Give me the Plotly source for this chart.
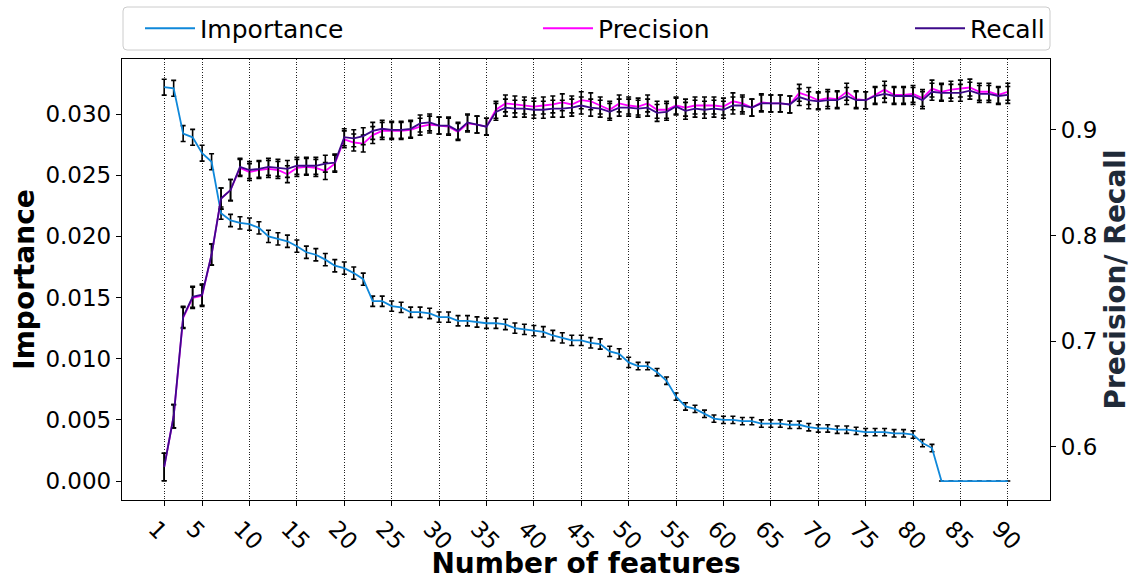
import plotly.graph_objects as go

# Number of selected features
n_features = list(range(1, 91))

# Mean feature importance and its spread
importance = [
    0.0322, 0.0321, 0.0284, 0.0281, 0.0268, 0.0261, 0.0219, 0.0213, 0.0211, 0.0210,
    0.0207, 0.0200, 0.0198, 0.0196, 0.0192, 0.0187, 0.0185, 0.0181, 0.0176, 0.0174,
    0.0170, 0.0165, 0.0147, 0.0147, 0.0143, 0.0142, 0.0138, 0.0138, 0.0137, 0.0134,
    0.0134, 0.0131, 0.0131, 0.0130, 0.0129, 0.0129, 0.0128, 0.0125, 0.0124, 0.0123,
    0.0122, 0.0119, 0.0117, 0.0115, 0.0115, 0.0113, 0.0112, 0.0106, 0.0104, 0.0097,
    0.0094, 0.0094, 0.0089, 0.0082, 0.0069, 0.0061, 0.0059, 0.0055, 0.0051, 0.0050,
    0.0050, 0.0049, 0.0049, 0.0047, 0.0047, 0.0047, 0.0046, 0.0046, 0.0044, 0.0043,
    0.0043, 0.0042, 0.0042, 0.0041, 0.0040, 0.0040, 0.0040, 0.0039, 0.0039, 0.0038,
    0.0031, 0.0027, 0.0, 0.0, 0.0, 0.0, 0.0, 0.0, 0.0, 0.0,
]
importance_err = (
    [0.00065] * 6 + [0.0005] * 16 + [0.00042] * 28 + [0.0003] * 32 + [0.0] * 8
)

# Classifier precision and recall
precision = [
    0.581, 0.629, 0.722, 0.741, 0.743, 0.782, 0.835, 0.843, 0.864, 0.860,
    0.862, 0.863, 0.862, 0.858, 0.864, 0.865, 0.864, 0.861, 0.868, 0.891,
    0.888, 0.887, 0.895, 0.899, 0.899, 0.899, 0.900, 0.903, 0.905, 0.904,
    0.903, 0.898, 0.906, 0.905, 0.903, 0.919, 0.925, 0.924, 0.923, 0.922,
    0.923, 0.924, 0.926, 0.924, 0.928, 0.927, 0.923, 0.919, 0.925, 0.923,
    0.922, 0.925, 0.919, 0.919, 0.923, 0.921, 0.923, 0.923, 0.923, 0.922,
    0.927, 0.925, 0.921, 0.926, 0.925, 0.925, 0.924, 0.935, 0.932, 0.928,
    0.930, 0.929, 0.936, 0.929, 0.928, 0.933, 0.938, 0.933, 0.933, 0.934,
    0.930, 0.939, 0.936, 0.938, 0.939, 0.940, 0.936, 0.936, 0.933, 0.936,
]
recall = [
    0.581, 0.629, 0.723, 0.742, 0.744, 0.782, 0.835, 0.843, 0.865, 0.862,
    0.863, 0.865, 0.864, 0.863, 0.866, 0.866, 0.866, 0.868, 0.869, 0.893,
    0.892, 0.894, 0.899, 0.901, 0.900, 0.900, 0.901, 0.906, 0.907, 0.904,
    0.904, 0.899, 0.907, 0.905, 0.903, 0.917, 0.921, 0.920, 0.920, 0.919,
    0.919, 0.920, 0.920, 0.921, 0.923, 0.921, 0.920, 0.917, 0.921, 0.921,
    0.920, 0.921, 0.916, 0.917, 0.922, 0.918, 0.920, 0.919, 0.920, 0.919,
    0.923, 0.923, 0.921, 0.925, 0.925, 0.925, 0.924, 0.931, 0.928, 0.927,
    0.928, 0.928, 0.932, 0.928, 0.928, 0.932, 0.934, 0.932, 0.932, 0.932,
    0.928, 0.936, 0.935, 0.935, 0.935, 0.937, 0.934, 0.934, 0.932, 0.933,
]
score_err = [0.013, 0.011, 0.010] + [0.010] * 5 + [0.008] * 82

x_ticks = [1] + list(range(5, 91, 5))
imp_ticks = [0.0, 0.005, 0.010, 0.015, 0.020, 0.025, 0.030]
score_ticks = [0.6, 0.7, 0.8, 0.9]

FONT = "DejaVu Sans"
W, H = 1134.0, 580.0
PL, PR, PT, PB = 122, 1050, 59, 500  # plot area edges in pixels


def err(values):
    return dict(type="data", array=values, visible=True, color="black",
                thickness=1.6, width=2.5)


def px_to_paper(px, py):
    return (px - PL) / (PR - PL), (PB - py) / (PB - PT)


fig = go.Figure()
fig.add_trace(go.Scatter(
    x=n_features, y=importance, name="Importance", mode="lines",
    line=dict(color="#0f88da", width=1.8), error_y=err(importance_err),
    yaxis="y", legend="legend", showlegend=True,
))
fig.add_trace(go.Scatter(
    x=n_features, y=precision, name="Precision", mode="lines",
    line=dict(color="#ff00ff", width=1.8), error_y=err(score_err),
    yaxis="y2", legend="legend2", showlegend=True,
))
fig.add_trace(go.Scatter(
    x=n_features, y=recall, name="Recall", mode="lines",
    line=dict(color="#3d0a8a", width=1.8), error_y=err(score_err),
    yaxis="y2", legend="legend3", showlegend=True,
))

# Rounded frame around the three legend entries
bx0, by0 = px_to_paper(123, 50)
bx1, by1 = px_to_paper(1050, 7)
rx, ry = 4 / (PR - PL), 4 / (PB - PT)
frame = (
    f"M{bx0 + rx},{by0} L{bx1 - rx},{by0} Q{bx1},{by0} {bx1},{by0 + ry} "
    f"L{bx1},{by1 - ry} Q{bx1},{by1} {bx1 - rx},{by1} "
    f"L{bx0 + rx},{by1} Q{bx0},{by1} {bx0},{by1 - ry} "
    f"L{bx0},{by0 + ry} Q{bx0},{by0} {bx0 + rx},{by0} Z"
)

legend_common = dict(
    orientation="h", yref="container", y=1 - 28.5 / H, yanchor="middle",
    xref="container", xanchor="left", itemwidth=50,
    bgcolor="rgba(0,0,0,0)", borderwidth=0,
    font=dict(family=FONT, size=25, color="black"),
)

fig.update_layout(
    width=1134, height=580,
    margin=dict(l=PL, r=W - PR, t=PT, b=H - PB, autoexpand=False),
    paper_bgcolor="white", plot_bgcolor="white",
    font=dict(family=FONT, size=23, color="black"),
    showlegend=True,
    shapes=[dict(type="path", path=frame, xref="paper", yref="paper",
                 line=dict(color="#cccccc", width=1),
                 fillcolor="rgba(255,255,255,0.8)", layer="below")],
    legend=dict(x=140 / W, **legend_common),
    legend2=dict(x=538 / W, **legend_common),
    legend3=dict(x=910 / W, **legend_common),
    xaxis=dict(
        range=[-3.45, 94.45], tickvals=x_ticks, tickangle=45,
        showgrid=True, gridcolor="#222222", griddash="1px,1.6px", gridwidth=0.9,
        showline=True, linecolor="black", linewidth=1.3, mirror=True,
        ticks="outside", ticklen=5, tickcolor="black",
        zeroline=False, automargin=False, ticklabelshift=-9,
        tickfont=dict(family=FONT, size=23, color="black"),
        title=dict(text="<b>Number of features</b>", standoff=2,
                   font=dict(family=FONT, size=28, color="black")),
    ),
    yaxis=dict(
        range=[-0.00155, 0.0345], tickvals=imp_ticks, tickformat=".3f",
        showgrid=False, zeroline=False, automargin=False,
        showline=True, linecolor="black", linewidth=1.3,
        ticks="outside", ticklen=5, tickcolor="black",
        tickfont=dict(family=FONT, size=23, color="black"),
        title=dict(text="<b>Importance</b>", standoff=2,
                   font=dict(family=FONT, size=28, color="black")),
    ),
    yaxis2=dict(
        range=[0.5498, 0.967], tickvals=score_ticks, tickformat=".1f",
        overlaying="y", side="right", showgrid=False, zeroline=False,
        automargin=False,
        showline=True, linecolor="black", linewidth=1.3,
        ticks="outside", ticklen=5, tickcolor="black",
        tickfont=dict(family=FONT, size=23, color="black"),
        title=dict(text="<b>Precision/ Recall</b>", standoff=9,
                   font=dict(family=FONT, size=28, color="#1f2a38")),
    ),
)

fig.write_html("out.html")
